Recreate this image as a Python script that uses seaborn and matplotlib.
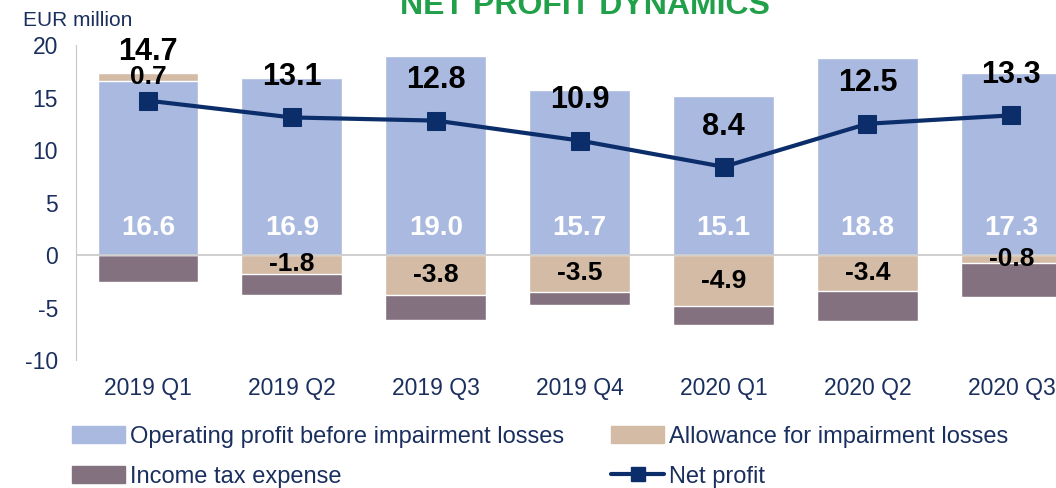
import numpy as np
import pandas as pd
import matplotlib.pyplot as plt
import seaborn as sns
from matplotlib.patches import Patch
from matplotlib.lines import Line2D

# => Data (EUR million)
quarters = ["2019 Q1", "2019 Q2", "2019 Q3", "2019 Q4", "2020 Q1", "2020 Q2", "2020 Q3"]
operating_profit = [16.6, 16.9, 19.0, 15.7, 15.1, 18.8, 17.3]
allowance = [0.7, -1.8, -3.8, -3.5, -4.9, -3.4, -0.8]
income_tax = [-2.6, -2.0, -2.4, -1.3, -1.8, -2.9, -3.2]
net_profit = [14.7, 13.1, 12.8, 10.9, 8.4, 12.5, 13.3]

c_op = "#a9b9e0"
c_allow = "#d3bba5"
c_tax = "#83717f"
c_line = "#0b2e6b"
c_text = "#1a2f5e"

sns.set_style("white")
plt.rcParams["font.family"] = ["Liberation Sans", "DejaVu Sans"]
plt.rcParams["axes.unicode_minus"] = False

df = pd.DataFrame({"quarter": quarters, "op": operating_profit, "allow": allowance,
                   "tax": income_tax, "net": net_profit})
df["allow_pos"] = df["allow"].clip(lower=0)
df["allow_neg"] = df["allow"].clip(upper=0)
# overlapping bars to fake the stacking
df["pos_top"] = df["op"] + df["allow_pos"]
df["neg_bottom"] = df["allow_neg"] + df["tax"]

fig = plt.figure(figsize=(10.56, 4.88), dpi=100)
ax = fig.add_axes([76 / 1056, 1 - 360 / 488, 1 - 76 / 1056, 315 / 488])

sns.barplot(data=df, x="quarter", y="pos_top", color=c_allow, width=0.7, saturation=1, ax=ax)
sns.barplot(data=df, x="quarter", y="op", color=c_op, width=0.7, saturation=1, ax=ax)
sns.barplot(data=df, x="quarter", y="neg_bottom", color=c_tax, width=0.7, saturation=1, ax=ax)
sns.barplot(data=df, x="quarter", y="allow_neg", color=c_allow, width=0.7, saturation=1, ax=ax)

x = np.arange(len(quarters))
sns.lineplot(x=x, y=df["net"].values, color=c_line, lw=3, marker="s", markersize=13,
             markeredgecolor=c_line, ax=ax, zorder=5)

ax.axhline(0, color="#c8c8c8", lw=1.2, zorder=1)
ax.set_xlim(-0.5, 6.31)
ax.set_ylim(-10, 20)
ax.set_yticks(np.arange(-10, 21, 5))
ax.set_xlabel("")
ax.set_ylabel("")
for s in ["top", "right", "bottom"]:
    ax.spines[s].set_visible(False)
ax.spines["left"].set_color("#c8c8c8")
ax.tick_params(axis="both", length=0, colors=c_text, labelsize=16.5)
ax.tick_params(axis="x", pad=12)
ax.tick_params(axis="y", pad=13)

# data labels
for i in range(len(quarters)):
    ax.text(i, 2.6, f"{operating_profit[i]:.1f}", ha="center", va="center",
            color="white", fontsize=20, fontweight="bold")
    a = allowance[i]
    base = operating_profit[i] if a > 0 else 0
    ax.text(i, base + a / 2, f"{a:.1f}", ha="center", va="center",
            color="black", fontsize=19, fontweight="bold", zorder=6)
    off = 35 if i == 0 else 29
    ax.annotate(f"{net_profit[i]:.1f}", (i, net_profit[i]), xytext=(0, off),
                textcoords="offset points", ha="center", va="center",
                fontsize=22, fontweight="bold", color="black", zorder=6)

fig.text(23 / 1056, 1 - 20 / 488, "EUR million", color=c_text, fontsize=15, va="center")
fig.text(585 / 1056, 1 - 14 / 488, "NET PROFIT DYNAMICS", color="#21a04a", fontsize=23,
         fontweight="bold", ha="center", va="baseline")

handles = [Patch(color=c_op), Patch(color=c_tax), Patch(color=c_allow),
           Line2D([], [], color=c_line, lw=3, marker="s", markersize=10)]
labels = ["Operating profit before impairment losses", "Income tax expense",
          "Allowance for impairment losses", "Net profit"]
leg = fig.legend(handles, labels, ncol=2, loc="upper left", bbox_to_anchor=(72 / 1056, 1 - 426 / 488),
                 frameon=False, fontsize=17, handlelength=2.25, handletextpad=0.2,
                 columnspacing=2.0, labelspacing=0.75, borderpad=0, borderaxespad=0)
for t in leg.get_texts():
    t.set_color(c_text)

fig.savefig("out.png", dpi=100)
